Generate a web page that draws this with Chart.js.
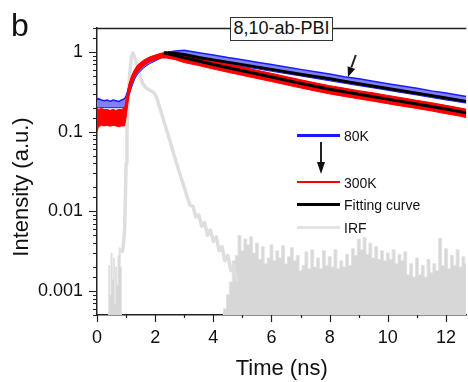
<!DOCTYPE html>
<html>
<head>
<meta charset="utf-8">
<script src="https://cdn.jsdelivr.net/npm/chart.js@4.4.0/dist/chart.umd.min.js"></script>
<style>
  html,body{margin:0;padding:0;background:#fff;}
  #wrap{position:relative;width:468px;height:382px;overflow:hidden;font-family:"Liberation Sans",Arial,sans-serif;color:#111;}
  #c{position:absolute;left:0;top:0;}
  .lbl{position:absolute;white-space:nowrap;}
  #panel{left:11px;top:9px;font-size:32px;line-height:32px;}
  #sample{left:230px;top:17px;width:103px;height:24px;box-sizing:border-box;border:1.5px solid #333;background:#fff;
          font-size:18px;line-height:21px;text-align:center;}
  #ytitle{left:21px;top:187px;font-size:22px;line-height:26px;transform:translate(-50%,-50%) rotate(-90deg);}
  .lgLine{position:absolute;left:297px;width:43px;}
  .lgText{position:absolute;left:344px;font-size:14px;line-height:16px;white-space:nowrap;}
</style>
</head>
<body>
<div id="wrap">
  <canvas id="c" width="468" height="382"></canvas>
  <div class="lbl" id="panel">b</div>
  <div class="lbl" id="sample">8,10-ab-PBI</div>
  <div class="lbl" id="ytitle">Intensity (a.u.)</div>
  <div id="legend"></div>
</div>
<script>
// time axis of the measured decays (ns)
const tSig = [0,0.05,0.15,0.25,0.35,0.45,0.55,0.65,0.75,0.85,0.95,1.0,1.05,1.1,1.2,1.3,1.4,1.6,1.8,2.0,2.2,2.4,2.7,
              3.0,3.5,4.0,4.5,5.0,5.5,6.0,6.5,7.0,7.5,8.0,8.5,9.0,9.5,10.0,10.5,11.0,11.5,12.0,12.5,12.7];
// 80K band (upper / lower edge of the noisy trace)
const hi80 = [0.25,0.26,0.25,0.245,0.25,0.24,0.25,0.245,0.24,0.25,0.26,0.28,0.32,0.37,0.47,0.56,0.63,0.72,0.82,0.89,0.94,0.99,1.03,
              1.05,0.98,0.915,0.85,0.8,0.745,0.695,0.65,0.605,0.565,0.53,0.49,0.46,0.43,0.4,0.375,0.35,0.325,0.305,0.285,0.277];
const lo80 = [0.2,0.2,0.2,0.2,0.2,0.2,0.2,0.2,0.2,0.2,0.2,0.21,0.25,0.29,0.37,0.46,0.53,0.63,0.71,0.77,0.84,0.89,0.92,
              0.87,0.81,0.755,0.7,0.655,0.615,0.573,0.535,0.5,0.466,0.435,0.405,0.378,0.354,0.33,0.308,0.288,0.268,0.25,0.234,0.228];
// 300K band
const hi300 = [0.2,0.19,0.195,0.19,0.19,0.185,0.19,0.185,0.19,0.19,0.2,0.25,0.315,0.4,0.515,0.61,0.69,0.79,0.865,0.915,0.965,0.99,0.99,
               0.935,0.857,0.774,0.706,0.646,0.59,0.54,0.492,0.449,0.411,0.378,0.352,0.327,0.307,0.285,0.266,0.247,0.231,0.214,0.198,0.191];
const lo300 = [0.1,0.115,0.12,0.118,0.12,0.117,0.12,0.118,0.115,0.118,0.118,0.15,0.21,0.28,0.4,0.49,0.56,0.665,0.75,0.795,0.84,0.84,0.8,
               0.736,0.675,0.61,0.556,0.508,0.465,0.425,0.388,0.354,0.324,0.298,0.277,0.258,0.241,0.224,0.209,0.195,0.182,0.168,0.156,0.15];
// fitting curves
const tFit = [2.3,2.7,3.0,3.5,4,5,6,7,8,9,10,11,12,12.7];
const fit80 = [0.975,0.96,0.93,0.855,0.796,0.694,0.605,0.527,0.46,0.4,0.348,0.303,0.264,0.24];
const fit300 = [0.975,0.9,0.845,0.77,0.695,0.58,0.485,0.404,0.34,0.294,0.256,0.222,0.192,0.172];
// instrument response: pulse part
const tIrf = [0.85,0.9,0.95,0.98,1.0,1.03,1.07,1.12,1.18,1.23,1.3,1.37,1.47,1.57,1.7,1.82,1.95,2.05,2.16,2.33,2.5,2.67,2.84,
              3.0,3.1,3.2,3.3,3.4,3.5,3.6,3.7,3.8,3.9,4.0,4.1,4.2,4.3,4.4,4.5,4.6,4.7,4.8];
const irf = [0.003,0.0035,0.006,0.017,0.04,0.1,0.25,0.5,0.85,0.97,0.85,0.7,0.52,0.4,0.35,0.33,0.31,0.27,0.2,0.125,0.078,0.048,0.03,
             0.02,0.015,0.012,0.0115,0.0085,0.009,0.0065,0.0072,0.005,0.0058,0.0042,0.0048,0.0032,0.0036,0.0024,0.0028,0.0018,0.0021,0.0013];
// instrument response: noise floor
const tNoise = [0.38,0.42,0.46,0.5,0.54,0.58,0.62,0.66,0.7,0.74,0.78,0.82,0.86,
  4.3,4.4,4.5,4.6,4.7,4.8,4.9,5.0,5.1,5.2,5.3,5.4,5.5,5.6,5.7,5.8,5.9,6.0,6.1,6.2,6.3,6.4,6.5,6.6,6.7,6.8,6.9,
  7.0,7.1,7.2,7.3,7.4,7.5,7.6,7.7,7.8,7.9,8.0,8.1,8.2,8.3,8.4,8.5,8.6,8.7,8.8,8.9,9.0,9.1,9.2,9.3,9.4,9.5,9.6,9.7,9.8,9.9,
  10.0,10.1,10.2,10.3,10.4,10.5,10.6,10.7,10.8,10.9,11.0,11.1,11.2,11.3,11.4,11.5,11.6,11.7,11.8,11.9,
  12.0,12.1,12.2,12.3,12.4,12.5,12.6,12.7];
const irfNoise = [0.0003,0.0021,0.0009,0.003,0.0014,0.0026,0.0007,0.002,0.0012,0.0028,0.0035,0.002,0.0003,
  0.0003,0.0006,0.0009,0.0013,0.0024,0.0028,0.005,0.0032,0.0045,0.0038,0.0048,0.003,0.004,0.0025,0.0036,0.0022,0.0026,
  0.0038,0.0024,0.0032,0.0026,0.0037,0.0022,0.0027,0.0035,0.0024,0.0028,
  0.0018,0.0021,0.0031,0.0019,0.0033,0.002,0.0026,0.0019,0.0032,0.0021,0.0027,0.002,0.0033,0.0019,0.0024,0.002,0.0029,0.0021,0.0034,0.0028,
  0.0045,0.0033,0.0047,0.0029,0.004,0.0026,0.0036,0.0025,0.0032,0.0024,
  0.003,0.0025,0.0033,0.0022,0.0029,0.0024,0.0031,0.0016,0.0022,0.0015,0.0026,0.0016,0.0021,0.0015,0.0025,0.0017,0.0022,0.0018,0.0046,0.0021,
  0.0034,0.0019,0.0028,0.0021,0.0033,0.002,0.0027,0.0022];

const xTickVals = [0,2,4,6,8,10,12];
const xTickLabels = ['0','2','4','6','8','10','12'];
const yDecades = [0.001,0.01,0.1,1];
const yDecadeLabels = ['0.001','0.01','0.1','1'];
const legendLabels = ['80K','300K','Fitting curve','IRF'];

const FONT = '"Liberation Sans", Arial, sans-serif';
const pts = (xs, ys) => xs.map((x,i)=>({x, y:ys[i]}));
const isDecade = v => yDecades.some(d => Math.abs(v/d - 1) < 1e-6);

function arrow(ctx, x1, y1, x2, y2, len, w){
  const a = Math.atan2(y2-y1, x2-x1);
  const bx = x2 - len*Math.cos(a), by = y2 - len*Math.sin(a);
  ctx.beginPath(); ctx.moveTo(x1,y1); ctx.lineTo(bx,by); ctx.stroke();
  ctx.beginPath(); ctx.moveTo(x2,y2);
  ctx.lineTo(bx + w/2*Math.sin(a), by - w/2*Math.cos(a));
  ctx.lineTo(bx - w/2*Math.sin(a), by + w/2*Math.cos(a));
  ctx.closePath(); ctx.fill();
}

const frame = {
  id:'frame',
  afterDraw(chart){
    const {ctx, chartArea:a, scales:{x, y}} = chart;
    ctx.save();
    ctx.strokeStyle = '#222'; ctx.fillStyle = '#111'; ctx.lineWidth = 1.2;
    ctx.beginPath();
    x.ticks.forEach(t=>{
      const px = Math.round(x.getPixelForValue(t.value)) + 0.5;
      const len = t.value % 2 === 0 ? 7 : 3;
      ctx.moveTo(px, a.bottom); ctx.lineTo(px, a.bottom + len);
    });
    y.ticks.forEach(t=>{
      const py = Math.round(y.getPixelForValue(t.value)) + 0.5;
      const len = isDecade(t.value) ? 8 : 4;
      ctx.moveTo(a.left, py); ctx.lineTo(a.left - len, py);
    });
    ctx.stroke();
    // top frame line
    ctx.lineWidth = 1.4;
    ctx.beginPath(); ctx.moveTo(a.left, a.top + 0.5); ctx.lineTo(a.right, a.top + 0.5); ctx.stroke();
    // arrow on the curves
    ctx.lineWidth = 2;
    arrow(ctx, x.getPixelForValue(8.9), y.getPixelForValue(0.917), x.getPixelForValue(8.63), y.getPixelForValue(0.486), 10, 8);
    // arrow in legend
    arrow(ctx, 321, 142, 321, 174, 12, 8);
    ctx.restore();
  }
};

new Chart(document.getElementById('c'), {
  type:'line',
  data:{ datasets:[
    { data:pts(tFit, fit80), borderColor:'#000', borderWidth:3, order:1 },
    { data:pts(tFit, fit300), borderColor:'#000', borderWidth:3, order:1 },
    { data:pts(tSig, hi300), borderColor:'#ff0000', borderWidth:1, order:2 },
    { data:pts(tSig, lo300), borderColor:'#ff0000', borderWidth:1, backgroundColor:'#ff0000', fill:'-1', order:2 },
    { data:pts(tSig, hi80), borderColor:'#1a1aff', borderWidth:1.5, order:3 },
    { data:pts(tSig, lo80), borderColor:'#1a1aff', borderWidth:1, backgroundColor:'#8080fa', fill:'-1', order:3 },
    { data:pts(tIrf, irf), borderColor:'#dedede', borderWidth:3.5, borderJoinStyle:'round', order:4 },
    { data:pts(tNoise, irfNoise), borderColor:'#e3e3e3', borderWidth:1, backgroundColor:'#d7d7d7', fill:'start', stepped:'middle', order:5 }
  ]},
  options:{
    responsive:false, animation:false, devicePixelRatio:1,
    layout:{ padding:{ top:28, left:0, right:0, bottom:0 } },
    elements:{ point:{ radius:0 }, line:{ tension:0 } },
    plugins:{ legend:{ display:false }, tooltip:{ enabled:false } },
    scales:{
      x:{ type:'linear', min:0, max:12.7,
          afterFit: s => { s.height = 67; },
          ticks:{ stepSize:1, autoSkip:false, includeBounds:false, maxRotation:0, padding:12, color:'#111',
                  font:{ size:18, family:FONT },
                  callback: v => { const i = xTickVals.indexOf(v); return i >= 0 ? xTickLabels[i] : ''; } },
          grid:{ drawOnChartArea:false, drawTicks:false },
          border:{ color:'#222', width:1.5 },
          title:{ display:true, text:'Time (ns)', color:'#111', font:{ size:22, family:FONT }, padding:{ top:0, bottom:0 } } },
      y:{ type:'logarithmic', min:0.0005, max:2,
          afterFit: s => { s.width = 97; },
          ticks:{ autoSkip:false, padding:14, color:'#111', font:{ size:18, family:FONT },
                  callback: v => { const i = yDecades.findIndex(d => Math.abs(v/d - 1) < 1e-6); return i >= 0 ? yDecadeLabels[i] : ''; } },
          grid:{ drawOnChartArea:false, drawTicks:false },
          border:{ color:'#222', width:1.5 } }
    }
  },
  plugins:[frame]
});

// legend overlay
const lg = document.getElementById('legend');
const rowY = [135, 182, 204, 227];
const rowStyle = [['#1a1aff',3], ['#ff0000',2], ['#000',3], ['#e4e4e4',3]];
legendLabels.forEach((txt, i)=>{
  const ln = document.createElement('div');
  ln.className = 'lgLine';
  ln.style.top = (rowY[i] - rowStyle[i][1]/2) + 'px';
  ln.style.height = rowStyle[i][1] + 'px';
  ln.style.background = rowStyle[i][0];
  lg.appendChild(ln);
  const tx = document.createElement('div');
  tx.className = 'lgText';
  tx.style.top = (rowY[i] - 7) + 'px';
  tx.textContent = txt;
  lg.appendChild(tx);
});
</script>
</body>
</html>
